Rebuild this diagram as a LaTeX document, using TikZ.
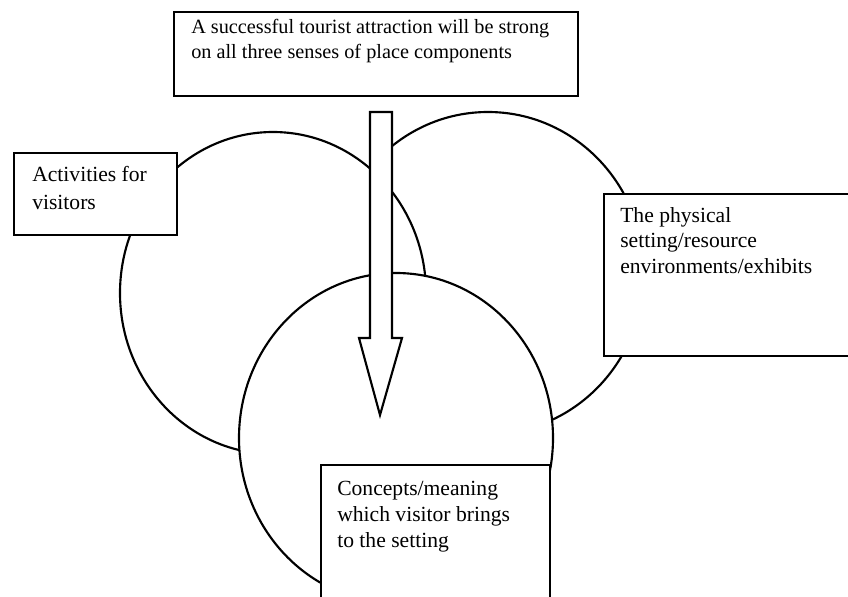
\documentclass[tikz,border=0pt]{standalone}
\usepackage{fontspec}
\setmainfont{Liberation Serif}
\begin{document}
\begin{tikzpicture}[x=0.75pt,y=-0.75pt,
  ring/.style={draw=black,line width=1.6pt,fill=white},
  boxst/.style={draw=black,line width=1.6pt,fill=white,rectangle,inner sep=0pt,anchor=north west},
  lab/.style={anchor=base west,inner sep=0pt,font=\fontsize{16.2}{19}\selectfont},
  toplab/.style={lab,font=\fontsize{15.2}{19}\selectfont},
  ]
\useasboundingbox (0,0) rectangle (848,596);
\begin{scope}
\clip (0,0) rectangle (848,596);
% three senses-of-place circles (right, left, bottom)
\draw[ring] (488,273) ellipse [x radius=156,y radius=161];
\draw[ring] (273,293) ellipse [x radius=153,y radius=161];
\draw[ring] (396,438) ellipse [x radius=157,y radius=165];
% boxes
\node[boxst,minimum width=303pt,minimum height=63pt] (topbox) at (173,11) {};
\node[boxst,minimum width=122.25pt,minimum height=61.5pt] (leftbox) at (13,152) {};
\node[boxst,minimum width=200.25pt,minimum height=121.5pt] (rightbox) at (603,193) {};
\node[boxst,minimum width=171.75pt,minimum height=117pt] (botbox) at (320,464) {};
% hollow arrow
\draw[line width=1.6pt,fill=white,line join=miter]
  (370,112) -- (392,112) -- (392,338) -- (402,338) -- (380,415) -- (359,338) -- (370,338) -- cycle;
% texts
\node[toplab] (t1) at (191,33) {A successful tourist attraction will be strong};
\node[toplab] (t2) at (191,58) {on all three senses of place components};
\node[lab] (l1) at (32,181) {Activities for};
\node[lab] (l2) at (32,209) {visitors};
\node[lab] (r1) at (620,222) {The physical};
\node[lab] (r2) at (620,247) {setting/resource};
\node[lab] (r3) at (620,273) {environments/exhibits};
\node[lab] (b1) at (337,495) {Concepts/meaning};
\node[lab] (b2) at (337,521) {which visitor brings};
\node[lab] (b3) at (337,547) {to the setting};
\end{scope}
\end{tikzpicture}
\end{document}
